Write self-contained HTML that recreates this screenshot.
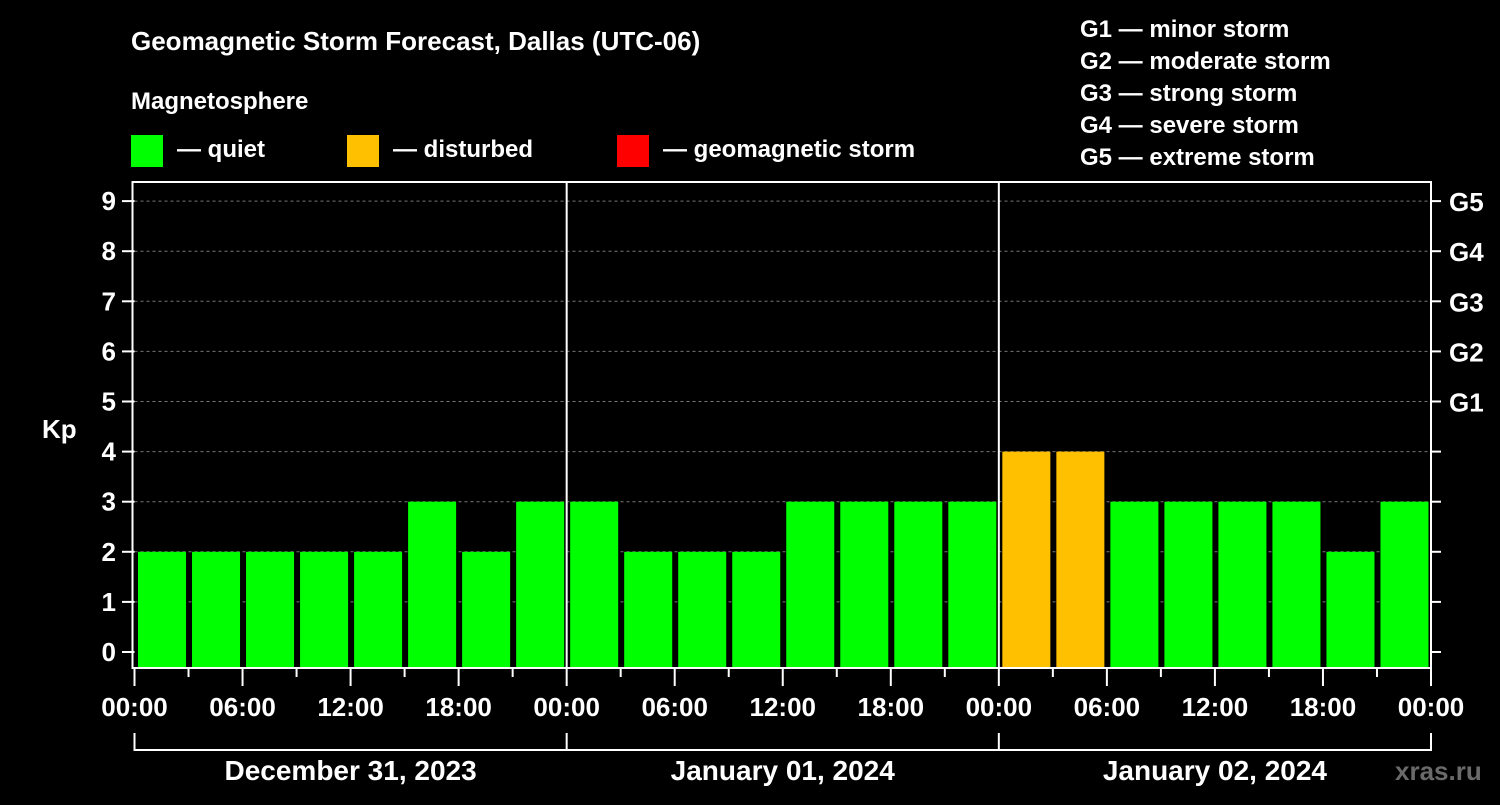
<!DOCTYPE html>
<html><head><meta charset="utf-8"><style>
body{margin:0;background:#000;width:1500px;height:800px;overflow:hidden}
svg text{font-family:"Liberation Sans",sans-serif;font-weight:bold;fill:#fff}
</style></head><body>
<svg id="c" width="1500" height="800">
<text x="131" y="50" font-size="26">Geomagnetic Storm Forecast, Dallas (UTC-06)</text>
<text x="131" y="109" font-size="24">Magnetosphere</text>
<g><rect x="131" y="135" width="32" height="32" fill="#00ff00"/><text x="177" y="157" font-size="24">— quiet</text></g>
<g><rect x="347" y="135" width="32" height="32" fill="#ffc000"/><text x="393" y="157" font-size="24">— disturbed</text></g>
<g><rect x="617" y="135" width="32" height="32" fill="#ff0000"/><text x="663" y="157" font-size="24">— geomagnetic storm</text></g>
<g font-size="24">
<text x="1080" y="37">G1 — minor storm</text>
<text x="1080" y="69">G2 — moderate storm</text>
<text x="1080" y="101">G3 — strong storm</text>
<text x="1080" y="133">G4 — severe storm</text>
<text x="1080" y="165">G5 — extreme storm</text>
</g>
<text x="42" y="438" font-size="26">Kp</text>
<text x="1395" y="780" font-size="26" fill="#666" style="fill:#6a6a6a">xras.ru</text>
<g id="plot"></g>
</svg>
<script>
const values=[2,2,2,2,2,3,2,3, 3,2,2,2,3,3,3,3, 4,4,3,3,3,3,2,3];
const days=["December 31, 2023","January 01, 2024","January 02, 2024"];
const hourLabels=["00:00","06:00","12:00","18:00"];
const gLabels=["G1","G2","G3","G4","G5"];
const kpTicks=[0,1,2,3,4,5,6,7,8,9];
const X0=134.5,X1=1431,DAYW=(X1-X0)/3,TOP=182,BOT=668;
const y=v=>652-50.1*v;
const x=h=>X0+h/24*DAYW;
const ns="http://www.w3.org/2000/svg",P=document.getElementById('plot');
function mk(t,a){const e=document.createElementNS(ns,t);for(const k in a)e.setAttribute(k,a[k]);P.appendChild(e);return e;}
kpTicks.forEach(k=>{
 if(k>0){const g=mk('line',{x1:X0,x2:X1,y1:y(k),y2:y(k),stroke:'#777','stroke-dasharray':'3,3','stroke-width':1});}
 const tl=mk('line',{x1:122,x2:X0,y1:y(k),y2:y(k),stroke:'#fff','stroke-width':2});
 const tr=mk('line',{x1:X1,x2:1441,y1:y(k),y2:y(k),stroke:'#fff','stroke-width':2});
 const t=mk('text',{x:116,y:y(k)+9,'font-size':26,'text-anchor':'end'});t.textContent=k;
});
gLabels.forEach((g,i)=>{const t=mk('text',{x:1449,y:y(5+i)+10,'font-size':26});t.textContent=g;});
values.forEach((v,i)=>{
 const c=v>=5?'#ff0000':v>=4?'#ffc000':'#00ff00';
 const b=mk('rect',{x:x(i*3)+3.5,y:y(v),width:DAYW/8-6,height:BOT-y(v),fill:c});
 
});
const fr=mk('rect',{x:X0-2,y:TOP,width:X1-X0+2,height:BOT-TOP,fill:'none',stroke:'#fff','stroke-width':2});

for(let d=1;d<3;d++){const l=mk('line',{x1:x(d*24),x2:x(d*24),y1:TOP,y2:BOT,stroke:'#fff','stroke-width':2});}
for(let h=0;h<=72;h+=3){
 const maj=h%6===0;
 const l=mk('line',{x1:x(h),x2:x(h),y1:BOT,y2:maj?686:677,stroke:'#fff','stroke-width':2});
 if(maj){const t=mk('text',{x:x(h),y:716,'font-size':26,'text-anchor':'middle'});t.textContent=hourLabels[(h/6)%4];}
}
days.forEach((d,i)=>{
 const p=mk('path',{d:`M${x(i*24)},733V750H${x(i*24+24)}`+(i==2?'V733':''),fill:'none',stroke:'#fff','stroke-width':2});
 const t=mk('text',{x:x(i*24+12),y:780,'font-size':28,'text-anchor':'middle'});t.textContent=d;
});
</script>
</body></html>
